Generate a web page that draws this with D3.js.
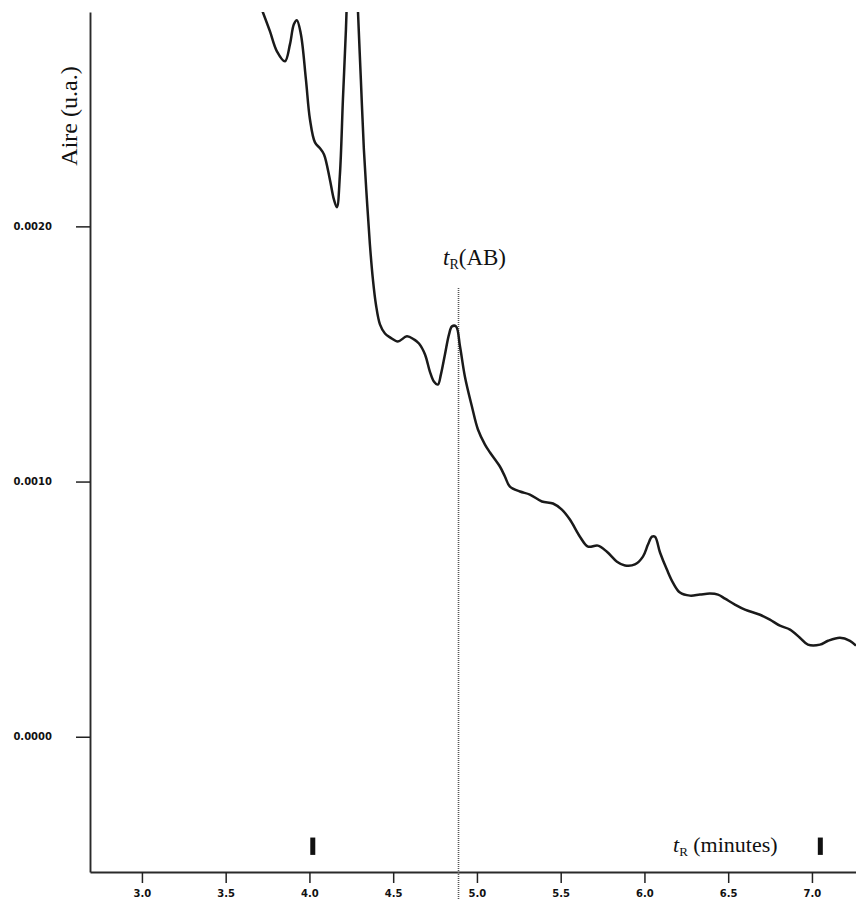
<!DOCTYPE html>
<html>
<head>
<meta charset="utf-8">
<script src="https://cdn.jsdelivr.net/npm/d3@7"></script>
<style>
  body { margin: 0; background: #fff; }
  svg { display: block; }
</style>
</head>
<body>
<div id="chart"></div>
<script>
// chromatogram, area vs retention time

const time = [3.645, 3.722, 3.764, 3.806, 3.854, 3.884, 3.907, 3.925, 3.949, 3.979,
  4.003, 4.033, 4.063, 4.087, 4.122, 4.146, 4.164, 4.182, 4.200, 4.218,
  4.236, 4.254, 4.272, 4.290, 4.307, 4.325, 4.343, 4.361, 4.379, 4.397,
  4.421, 4.451, 4.481, 4.528, 4.582, 4.624, 4.654, 4.690, 4.719, 4.743,
  4.767, 4.785, 4.809, 4.833, 4.851, 4.875, 4.899, 4.928, 4.970, 5.006,
  5.048, 5.078, 5.137, 5.167, 5.197, 5.257, 5.316, 5.388, 5.454, 5.507,
  5.555, 5.615, 5.663, 5.722, 5.776, 5.836, 5.884, 5.943, 5.991, 6.021,
  6.045, 6.063, 6.093, 6.134, 6.170, 6.212, 6.272, 6.331, 6.391, 6.439,
  6.481, 6.540, 6.600, 6.690, 6.749, 6.809, 6.869, 6.928, 6.976, 7.048,
  7.096, 7.167, 7.227, 7.263];

const area = [0.002969, 0.002839, 0.002765, 0.002686, 0.002647, 0.002714, 0.002792, 0.002808, 0.002753, 0.002576,
  0.002420, 0.002329, 0.002306, 0.002282, 0.002184, 0.002106, 0.002075, 0.002204, 0.002498, 0.002773,
  0.003125, 0.003282, 0.003165, 0.002839, 0.002576, 0.002302, 0.002106, 0.001929, 0.001792, 0.001694,
  0.001616, 0.001580, 0.001565, 0.001549, 0.001569, 0.001557, 0.001541, 0.001498, 0.001431, 0.001392,
  0.001380, 0.001420, 0.001498, 0.001576, 0.001608, 0.001608, 0.001529, 0.001412, 0.001294, 0.001204,
  0.001145, 0.001114, 0.001059, 0.001020, 0.000980, 0.000961, 0.000949, 0.000922, 0.000914, 0.000890,
  0.000851, 0.000784, 0.000745, 0.000749, 0.000725, 0.000686, 0.000671, 0.000675, 0.000706, 0.000753,
  0.000784, 0.000784, 0.000722, 0.000655, 0.000604, 0.000565, 0.000553, 0.000557, 0.000561, 0.000557,
  0.000541, 0.000518, 0.000498, 0.000478, 0.000459, 0.000435, 0.000420, 0.000388, 0.000361, 0.000361,
  0.000376, 0.000388, 0.000376, 0.000357];

const xTicks = [3.0, 3.5, 4.0, 4.5, 5.0, 5.5, 6.0, 6.5, 7.0];
const yTicks = [0.0000, 0.0010, 0.0020];
const tRAB = 4.89;            // retention time of AB (dotted line)
const markers = [4.02, 7.05]; // small black bars near the axis

const width = 856, height = 899;
const mLeft = 90, mRight = 856, mTop = 12, mBottom = 872;

const svg = d3.select("#chart").append("svg")
  .attr("width", width)
  .attr("height", height);

const x = d3.scaleLinear().domain([2.69, 7.263]).range([mLeft, mRight]);
const y = d3.scaleLinear().domain([-0.00053, 0.00284]).range([mBottom, mTop]);

svg.append("clipPath").attr("id", "plot")
  .append("rect")
  .attr("x", mLeft).attr("y", mTop)
  .attr("width", mRight - mLeft).attr("height", mBottom - mTop);

// axes
const yAxis = d3.axisLeft(y)
  .tickValues(yTicks)
  .tickFormat(d3.format(".4f"))
  .tickSizeInner(14)
  .tickSizeOuter(0)
  .tickPadding(24);

const xAxis = d3.axisBottom(x)
  .tickValues(xTicks)
  .tickFormat(d3.format(".1f"))
  .tickSizeInner(11)
  .tickSizeOuter(0)
  .tickPadding(7);

const gy = svg.append("g")
  .attr("transform", `translate(${mLeft},0)`)
  .call(yAxis);

const gx = svg.append("g")
  .attr("transform", `translate(0,${mBottom})`)
  .call(xAxis);

[gx, gy].forEach(g => {
  g.select(".domain").attr("stroke", "#2a2a2a").attr("stroke-width", 1.9);
  g.selectAll(".tick line").attr("stroke", "#222").attr("stroke-width", 1.5);
  g.selectAll(".tick text")
    .attr("fill", "#111")
    .style("font-family", "'DejaVu Sans', sans-serif")
    .style("font-weight", "bold")
    .style("font-size", "10px");
});

// retention time line
svg.append("line")
  .attr("x1", x(tRAB)).attr("x2", x(tRAB))
  .attr("y1", 288).attr("y2", height)
  .attr("stroke", "#555")
  .attr("stroke-width", 1.6)
  .attr("stroke-dasharray", "1,1");

// chromatogram trace
const pts = time.map((t, i) => [t, area[i]]);
const line = d3.line()
  .x(d => x(d[0]))
  .y(d => y(d[1]))
  .curve(d3.curveCatmullRom.alpha(0.5));

svg.append("path")
  .datum(pts)
  .attr("clip-path", "url(#plot)")
  .attr("fill", "none")
  .attr("stroke", "#1a1a1a")
  .attr("stroke-width", 2.5)
  .attr("stroke-linejoin", "round")
  .attr("d", line);

// black marker bars
svg.selectAll("rect.marker")
  .data(markers)
  .enter()
  .append("rect")
  .attr("class", "marker")
  .attr("x", d => x(d) - 2.5)
  .attr("y", y(-0.000395))
  .attr("width", 5)
  .attr("height", y(-0.000463) - y(-0.000395))
  .attr("fill", "#111");

// labels
const serif = "'Liberation Serif', 'Times New Roman', serif";

svg.append("text")
  .attr("transform", `translate(77,116) rotate(-90)`)
  .attr("text-anchor", "middle")
  .style("font-family", serif)
  .style("font-size", "24px")
  .attr("fill", "#111")
  .text("Aire (u.a.)");

const ab = svg.append("text")
  .attr("x", 443).attr("y", 265)
  .style("font-family", serif)
  .style("font-size", "23px")
  .attr("fill", "#111");
ab.append("tspan").style("font-style", "italic").text("t");
ab.append("tspan").attr("dy", 4).style("font-size", "14px").text("R");
ab.append("tspan").attr("dy", -4).text("(AB)");

const mn = svg.append("text")
  .attr("x", 673).attr("y", 852)
  .style("font-family", serif)
  .style("font-size", "22px")
  .attr("fill", "#111");
mn.append("tspan").style("font-style", "italic").text("t");
mn.append("tspan").attr("dy", 4).style("font-size", "13px").text("R");
mn.append("tspan").attr("dy", -4).text(" (minutes)");
</script>
</body>
</html>
